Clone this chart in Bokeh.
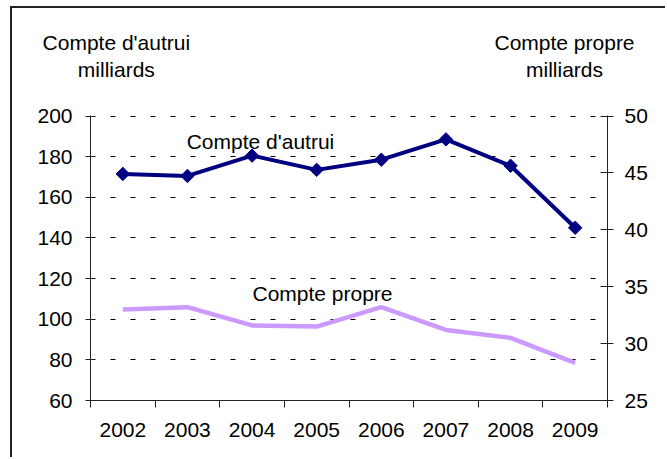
import math
from bokeh.plotting import figure
from bokeh.models import Range1d, LinearAxis, FixedTicker, Label, Grid
from bokeh.embed import file_html
from bokeh.resources import INLINE

years = ["2002", "2003", "2004", "2005", "2006", "2007", "2008", "2009"]
compte_autrui = [171.5, 170.5, 180.5, 173.5, 178.5, 188.5, 175.5, 145.0]
compte_propre = [33.0, 33.2, 31.6, 31.5, 33.2, 31.2, 30.5, 28.3]
left_ticks = [60, 80, 100, 120, 140, 160, 180, 200]
right_ticks = [25, 30, 35, 40, 45, 50]
title_line1 = ["Compte d'autrui", "Compte propre"]
title_line2 = ["milliards", "milliards"]

FONT = "Liberation Sans"
FS = "21px"

n = len(years)
xs = [i + 0.5 for i in range(n)]
title_x = [0.40, 7.335]

# small headroom so the top dashed gridline is not clipped by the frame
pad = 0.25
l_lo, l_hi = left_ticks[0], left_ticks[-1]
r_lo, r_hi = right_ticks[0], right_ticks[-1]
r_pad = pad * (r_hi - r_lo) / (l_hi - l_lo)

W, H = 655, 451
p = figure(width=W, height=H, output_backend="svg", toolbar_location=None,
           x_range=Range1d(0, n), y_range=Range1d(l_lo, l_hi + pad),
           min_border_left=78, min_border_right=60, min_border_top=107,
           min_border_bottom=59, x_axis_type=None, y_axis_type=None)
p.styles = {"margin-left": "10px", "margin-top": "6px",
            "border-left": "2px solid #222", "border-top": "2px solid #222"}
p.outline_line_color = None
p.background_fill_color = "white"
p.border_fill_color = "white"
p.extra_y_ranges = {"right": Range1d(r_lo, r_hi + r_pad)}

def style_labels(ax):
    ax.major_label_text_font = FONT
    ax.major_label_text_font_size = FS
    ax.major_label_text_color = "black"

# bottom axis: labels at centres, ticks at category boundaries
xaxis = LinearAxis(ticker=FixedTicker(ticks=xs, minor_ticks=list(range(n + 1))))
xaxis.major_label_overrides = {x: y for x, y in zip(xs, years)}
xaxis.major_tick_out = 0
xaxis.major_tick_in = 0
xaxis.minor_tick_out = 7
xaxis.minor_tick_in = 0
xaxis.minor_tick_line_color = "#222"
xaxis.axis_line_color = "#222"
xaxis.major_label_standoff = 15
style_labels(xaxis)
p.add_layout(xaxis, "below")

yaxis = LinearAxis(ticker=FixedTicker(ticks=left_ticks, minor_ticks=[]))
yaxis.major_tick_out = 5
yaxis.major_tick_in = 4
yaxis.major_tick_line_color = "#222"
yaxis.axis_line_color = "#222"
yaxis.major_label_standoff = 13
style_labels(yaxis)
p.add_layout(yaxis, "left")

raxis = LinearAxis(y_range_name="right", ticker=FixedTicker(ticks=right_ticks, minor_ticks=[]))
raxis.major_tick_out = 6
raxis.major_tick_in = 7
raxis.major_tick_line_color = "#222"
raxis.axis_line_color = "#222"
raxis.major_label_standoff = 11
style_labels(raxis)
p.add_layout(raxis, "right")

# axis titles above the frame, drawn as label-only axes (line 2 nearest the frame)
def title_axis(texts, standoff):
    ax = LinearAxis(ticker=FixedTicker(ticks=title_x, minor_ticks=[]))
    ax.major_label_overrides = {x: t for x, t in zip(title_x, texts)}
    ax.axis_line_color = None
    ax.major_tick_line_color = None
    ax.minor_tick_line_color = None
    ax.major_tick_out = 0
    ax.major_tick_in = 0
    ax.major_label_standoff = standoff
    style_labels(ax)
    p.add_layout(ax, "above")

title_axis(title_line2, 35)
title_axis(title_line1, 1)

grid = Grid(dimension=1, ticker=FixedTicker(ticks=left_ticks[1:], minor_ticks=[]),
            grid_line_color="black", grid_line_dash="5 15", grid_line_width=1)
p.add_layout(grid)

p.line(xs, compte_propre, y_range_name="right", line_color="#CC99FF", line_width=4.5)
p.line(xs, compte_autrui, line_color="#000080", line_width=4)
p.scatter(xs, compte_autrui, marker="square", angle=math.pi / 4, size=9.5,
          fill_color="#000080", line_color="#000080", line_width=1)

def lab(x, y, t):
    p.add_layout(Label(x=x, y=y, text=t, text_font=FONT, text_font_size=FS,
                       text_align="center", text_baseline="alphabetic",
                       text_color="black"))

# in-plot series labels
lab(2.63, 187.5, "Compte d'autrui")
lab(3.59, 112.6, "Compte propre")

open("out.html", "w").write(file_html(p, INLINE))
